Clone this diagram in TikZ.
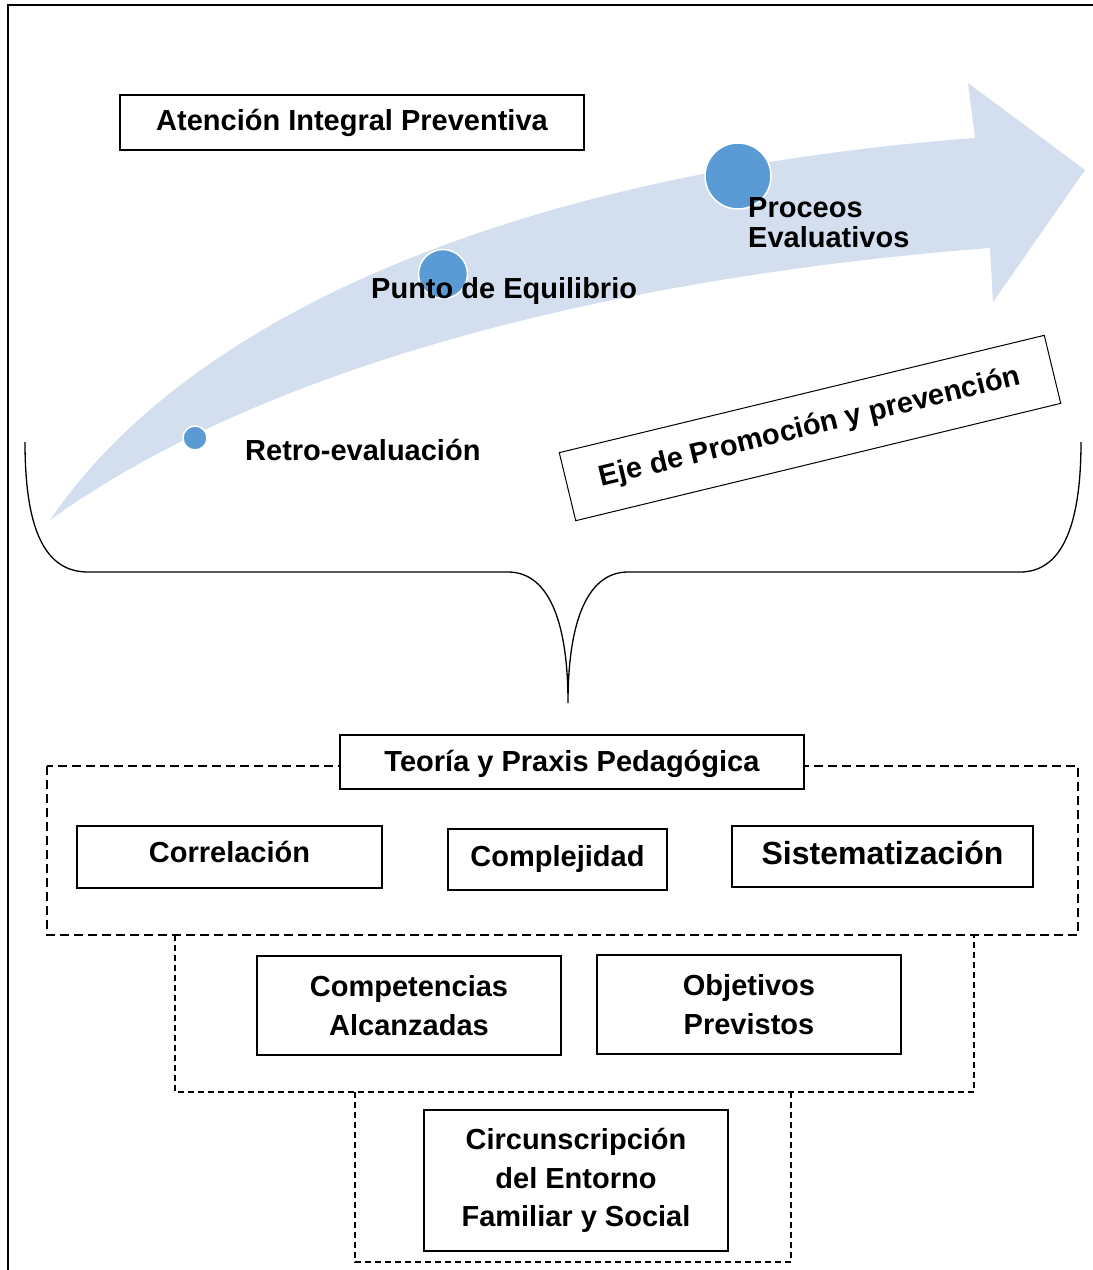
\documentclass[tikz,border=0pt]{standalone}
\usepackage{fontspec}
\setmainfont{Liberation Sans}
\definecolor{band}{HTML}{D3DEEF}
\definecolor{dotblue}{HTML}{5B9BD5}
\begin{document}
\begin{tikzpicture}[x=1pt,y=-1pt,
  lbl/.style={font=\fontsize{29}{38.5}\selectfont\bfseries, inner sep=0pt},
  box/.style={lbl, draw=black, line width=1.3pt, fill=white, align=center},
  zone/.style={draw=black, line width=1.2pt, dash pattern=on 9pt off 5pt},
  subzone/.style={draw=black, line width=1.2pt, dash pattern=on 6pt off 4pt},
  dot/.style={circle, fill=dotblue, draw=white, line width=1.5pt, inner sep=0pt}]
\useasboundingbox (0,0) rectangle (1093,1270);

% page frame (top and left edges)
\draw[line width=1.5pt] (1093,5) -- (8,5) -- (8,1270);

% curved progress arrow
\fill[band] (50,520) .. controls (200,300) and (550,170) .. (975,138)
  -- (968,83) -- (1085,170) -- (993,302) -- (990,248)
  .. controls (700,270) and (300,340) .. (50,520) -- cycle;

% milestones on the arrow
\node[dot, minimum size=24pt] (d1) at (195,438) {};
\node[dot, minimum size=49pt] (d2) at (443,274) {};
\node[dot, minimum size=66pt] (d3) at (738,176) {};

\node[lbl, anchor=base west] (retro) at (245,460) {Retro-evaluación};
\node[lbl, anchor=base west] (punto) at (371,298) {Punto de Equilibrio};
\node[lbl, anchor=base west] (proc1) at (748,217) {Proceos};
\node[lbl, anchor=base west] (proc2) at (748,247) {Evaluativos};

\node[box, minimum width=464pt, minimum height=55pt] (atencion) at (352,122.5) {Atención Integral Preventiva};

\node[box, line width=1pt, rotate=13.6, minimum width=499pt, minimum height=70pt] (eje) at (810,428) {Eje de Promoción y prevención};

% brace gathering everything above
\draw[line width=1.3pt] (25,442) .. controls (25,530) and (45,572) .. (88,572)
  -- (508,572) .. controls (548,572) and (568,620) .. (568,703)
  .. controls (568,620) and (588,572) .. (628,572)
  -- (1020,572) .. controls (1060,572) and (1081,530) .. (1081,442);

% dashed groups
\draw[subzone] (355,1092) -- (355,1262) -- (791,1262) -- (791,1092);
\draw[subzone] (175,935) -- (175,1092) -- (974,1092) -- (974,935);
\draw[zone] (47,766) rectangle (1078,935);

\node[box, minimum width=464pt, minimum height=54pt, text height=22pt, text depth=4pt] (teoria) at (572,762) {Teoría y Praxis Pedagógica};
\node[box, minimum width=305pt, minimum height=62pt, text height=21pt, text depth=10pt] (correl) at (229.5,857) {Correlación};
\node[box, minimum width=219pt, minimum height=61pt, text height=21pt, text depth=7pt] (compl) at (557.5,859.5) {Complejidad};
\node[box, minimum width=301pt, minimum height=61pt, text height=23pt, text depth=7pt, font=\fontsize{32}{38}\selectfont\bfseries] (sist) at (882.5,856.5) {Sistematización};

\node[box, minimum width=304pt, minimum height=99pt] (compet) at (409,1005.5) {Competencias\\Alcanzadas};
\node[box, minimum width=304pt, minimum height=99pt] (objet) at (749,1004.5) {Objetivos\\Previstos};

\node[box, minimum width=304pt, minimum height=141pt] (circ) at (576,1180.5) {Circunscripción\\del Entorno\\Familiar y Social};
\end{tikzpicture}
\end{document}
